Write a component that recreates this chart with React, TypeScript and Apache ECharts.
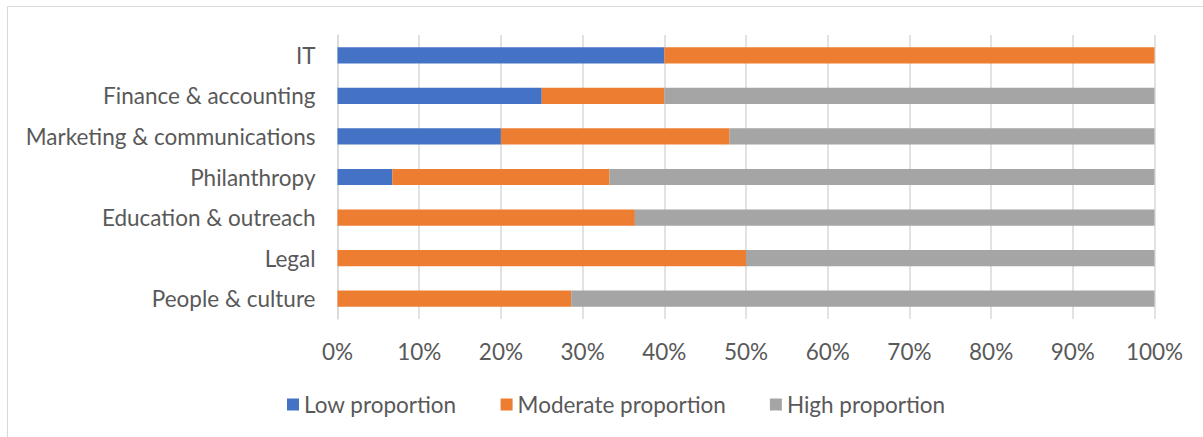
import React, { useEffect, useRef } from "react";
import * as echarts from "echarts";

// Departments, listed top to bottom
const categories = [
  "IT",
  "Finance & accounting",
  "Marketing & communications",
  "Philanthropy",
  "Education & outreach",
  "Legal",
  "People & culture",
];

// Share of respondents (%) per department
const lowProportion = [40, 25, 20, 6.7, 0, 0, 0];
const moderateProportion = [60, 15, 28, 26.6, 36.4, 50, 28.6];
const highProportion = [0, 60, 52, 66.7, 63.6, 50, 71.4];

const seriesNames = ["Low proportion", "Moderate proportion", "High proportion"];
const seriesColors = ["#4472C4", "#ED7D31", "#A5A5A5"];

const FONT = "Lato, 'Open Sans', sans-serif";
const FONT_SIZE = 22.5;
const TEXT_COLOR = "#595959";

export default function App() {
  const ref = useRef<HTMLDivElement>(null);

  useEffect(() => {
    if (!ref.current) return;
    const chart = echarts.init(ref.current, null, { renderer: "svg" });
    const values = [lowProportion, moderateProportion, highProportion];
    chart.setOption({
      animation: false,
      textStyle: { fontFamily: FONT },
      graphic: [
        {
          type: "rect",
          shape: { x: 7.5, y: 6.5, width: 1300, height: 500 },
          style: { fill: "none", stroke: "#d9d9d9", lineWidth: 1 },
          silent: true,
        },
      ],
      grid: { left: 337.5, right: 48.5, top: 35, bottom: 118 },
      xAxis: {
        type: "value",
        min: 0,
        max: 100,
        interval: 10,
        axisLine: { show: false },
        axisTick: { show: false },
        splitLine: { lineStyle: { color: "#d9d9d9", width: 1.5 } },
        axisLabel: {
          formatter: "{value}%",
          color: TEXT_COLOR,
          fontSize: FONT_SIZE,
          fontFamily: FONT,
          margin: 21,
        },
      },
      yAxis: {
        type: "category",
        inverse: true,
        data: categories,
        axisLine: { show: true, lineStyle: { color: "#d9d9d9", width: 1.5 } },
        axisTick: { show: false },
        axisLabel: {
          color: TEXT_COLOR,
          fontSize: FONT_SIZE,
          fontFamily: FONT,
          margin: 22,
        },
      },
      legend: {
        left: 282,
        top: 388,
        itemWidth: 12,
        itemHeight: 12,
        itemGap: 44,
        icon: "rect",
        textStyle: { color: TEXT_COLOR, fontSize: FONT_SIZE, fontFamily: FONT },
        data: seriesNames,
      },
      series: seriesNames.map((name, i) => ({
        name,
        type: "bar",
        stack: "total",
        barWidth: "40%",
        itemStyle: { color: seriesColors[i] },
        data: values[i],
      })),
    });
    return () => chart.dispose();
  }, []);

  return (
    <div
      ref={ref}
      style={{ position: "absolute", left: 0, top: 0, width: 1203, height: 437, background: "#fff" }}
    />
  );
}
